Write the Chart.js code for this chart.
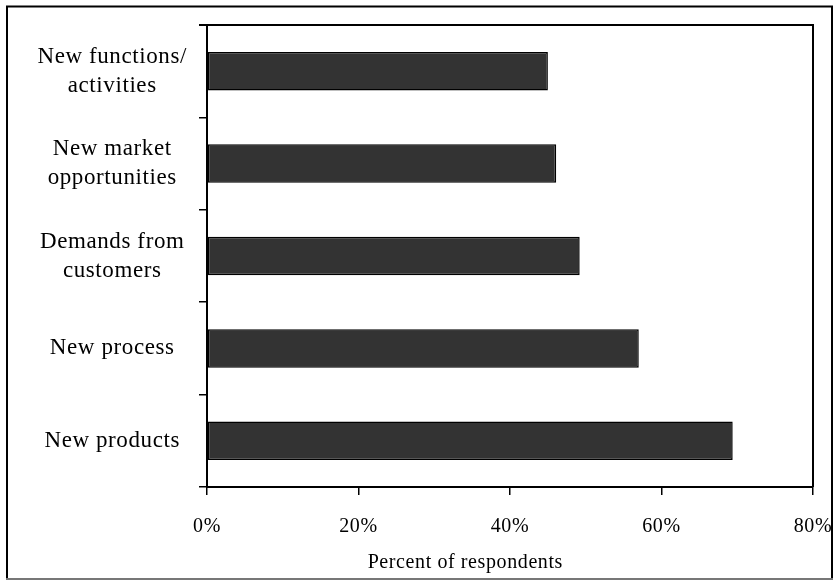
<!DOCTYPE html>
<html>
<head>
<meta charset="utf-8">
<script src="https://cdn.jsdelivr.net/npm/chart.js@4.4.1/dist/chart.umd.min.js"></script>
<style>
html,body{margin:0;padding:0;background:#fff;}
#wrap{width:833px;height:581px;position:relative;}
</style>
</head>
<body>
<div id="wrap"><canvas id="c" width="833" height="581"></canvas></div>
<script>
const categories = [
  ["New functions/", "activities"],
  ["New market", "opportunities"],
  ["Demands from", "customers"],
  ["New process"],
  ["New products"]
];
const values = [45.0, 46.1, 49.2, 57.0, 69.4];
const xTicks = [0, 20, 40, 60, 80];
const xTitle = "Percent of respondents";

const LS = '0.6px';
const spacing = {
  id: 'spacing',
  beforeUpdate(chart) { chart.ctx.letterSpacing = LS; },
  beforeLayout(chart) { chart.ctx.letterSpacing = LS; },
  beforeDraw(chart) { chart.ctx.letterSpacing = LS; }
};

const frame = {
  id: 'frame',
  afterDraw(chart) {
    const ctx = chart.ctx, a = chart.chartArea;
    ctx.save();
    // outer frame
    ctx.lineWidth = 2;
    ctx.strokeStyle = '#000';
    ctx.beginPath();
    ctx.moveTo(7, 579); ctx.lineTo(7, 6.5); ctx.lineTo(832, 6.5); ctx.lineTo(832, 579);
    ctx.stroke();
    ctx.strokeStyle = '#777';
    ctx.beginPath();
    ctx.moveTo(6, 579); ctx.lineTo(833, 579);
    ctx.stroke();
    // plot area top and right border
    ctx.strokeStyle = '#000';
    ctx.lineWidth = 2;
    ctx.beginPath();
    ctx.moveTo(a.left - 8, a.top);
    ctx.lineTo(a.right, a.top);
    ctx.lineTo(a.right, a.bottom);
    ctx.stroke();
    // axis title
    ctx.fillStyle = '#000';
    ctx.letterSpacing = LS;
    ctx.font = '20px "Liberation Serif"';
    ctx.textAlign = 'right';
    ctx.textBaseline = 'alphabetic';
    ctx.fillText(xTitle, 563, 568);
    ctx.restore();
  }
};

new Chart(document.getElementById('c'), {
  type: 'bar',
  data: {
    labels: categories,
    datasets: [{
      data: values,
      backgroundColor: '#333333',
      borderColor: '#000000',
      borderWidth: 1.5,
      borderSkipped: false,
      categoryPercentage: 1,
      barPercentage: 0.417
    }]
  },
  options: {
    indexAxis: 'y',
    responsive: false,
    animation: false,
    layout: { padding: { left: 0, right: 20, top: 25, bottom: 0 } },
    plugins: { legend: { display: false }, tooltip: { enabled: false } },
    scales: {
      x: {
        min: 0, max: 80,
        afterBuildTicks(axis) { axis.ticks = xTicks.map(v => ({ value: v })); },
        grid: { display: true, drawOnChartArea: false, color: '#000', lineWidth: 1.5, tickLength: 8 },
        border: { display: true, color: '#000', width: 2 },
        ticks: {
          color: '#000',
          font: { family: 'Liberation Serif', size: 20 },
          padding: 20,
          maxRotation: 0,
          callback: v => v + '%'
        },
        title: { display: false, text: xTitle },
        afterFit(axis) { axis.height = 94; axis.paddingLeft = 0; axis.paddingRight = 0; }
      },
      y: {
        offset: true,
        grid: { display: true, drawOnChartArea: false, offset: true, color: '#000', lineWidth: 1.5, tickLength: 8 },
        border: { display: true, color: '#000', width: 2 },
        ticks: {
          color: '#000',
          crossAlign: 'center',
          font: { family: 'Liberation Serif', size: 23, lineHeight: 1.26 },
          padding: 12
        },
        afterFit(axis) { axis.width = 207; axis.paddingTop = 0; axis.paddingBottom = 0; }
      }
    }
  },
  plugins: [spacing, frame]
});
</script>
</body>
</html>
